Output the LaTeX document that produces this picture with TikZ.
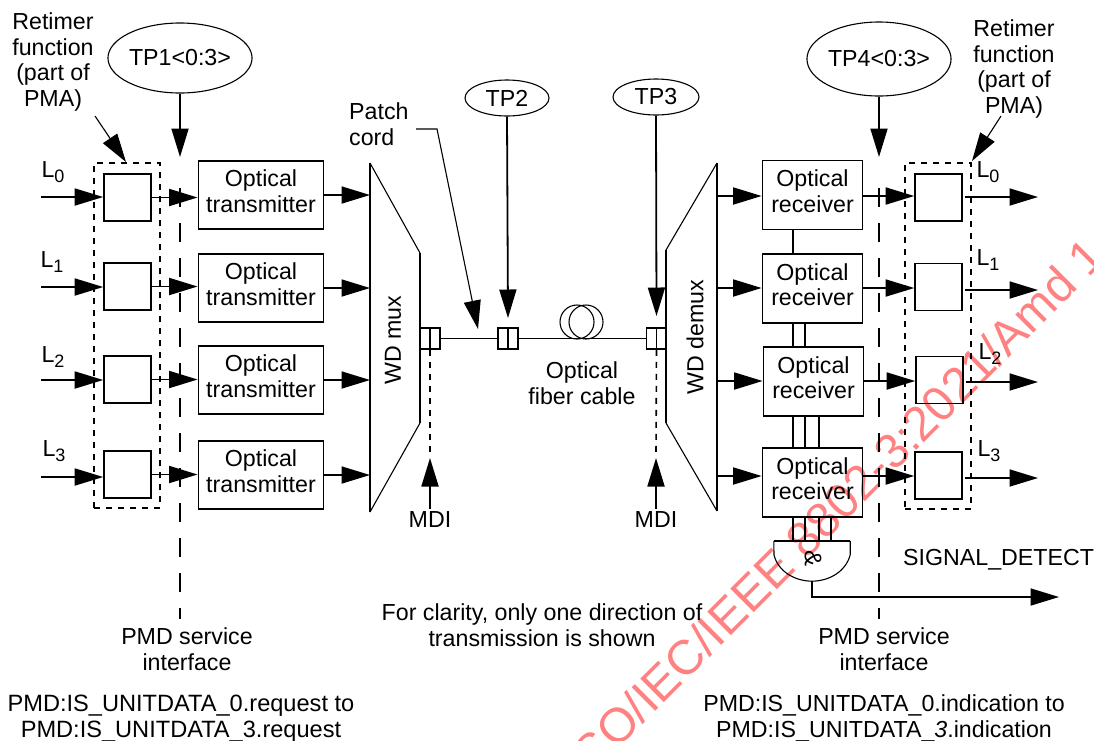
\documentclass[tikz,border=0pt]{standalone}
\usepackage{fontspec}
\setmainfont{Liberation Sans}
\usetikzlibrary{arrows.meta,shapes.geometric,calc}
\definecolor{wm}{RGB}{255,130,130}
\newcommand{\bodyf}{\fontsize{23.2}{25.8}\selectfont}
\newcommand{\lowstrut}{\rule[-8pt]{0pt}{8pt}}
\newcommand{\Lsub}[1]{L\raisebox{-5.5pt}{\fontsize{18}{18}\selectfont #1}}
\tikzset{
 x=1pt,y=-1pt,
 every node/.style={font=\bodyf,inner sep=0pt,align=center},
 bx/.style={draw,line width=1.8pt,minimum width=#1,minimum height=68pt},
 rt/.style={draw,line width=1.6pt,minimum width=47pt,minimum height=47pt},
 oval/.style={draw,ellipse,line width=1.1pt},
 big/.style={line width=1.8pt,-{Triangle[length=28.5pt,width=17pt]}},
 bigt/.style={line width=1.1pt,-{Triangle[length=28.5pt,width=17pt]}},
 thick1/.style={line width=1.8pt},
 thin1/.style={line width=1.1pt},
 dotbox/.style={line width=1.6pt,dash pattern=on 6pt off 6pt},
 longd/.style={line width=1.8pt,dash pattern=on 19pt off 16pt},
 conn/.style={draw,line width=1.6pt,minimum width=20pt,minimum height=21pt},
}
\begin{document}
\begin{tikzpicture}
\useasboundingbox (0,0) rectangle (1094,740);
% watermark, underneath the line work
\node[rotate=45,anchor=base east,text=wm,font=\fontsize{48.5}{48.5}\selectfont] (wmark) at (1108,259) {ISO/IEC/IEEE 8802-3:2021/Amd 1};
% dashed elements
\node[draw,dotbox,minimum width=66pt,minimum height=345pt] (lbox) at (127,335.5) {};
\node[draw,dotbox,minimum width=66pt,minimum height=346pt] (rbox) at (938,336) {};
% test point ellipses
\node[oval,minimum width=136pt,minimum height=70pt] (tp1) at (180,58) {TP1<0:3>};
\node[oval,minimum width=84pt,minimum height=36pt] (tp2) at (507,98) {TP2};
\node[oval,minimum width=86pt,minimum height=36pt] (tp3) at (656,97) {TP3};
\node[oval,minimum width=142pt,minimum height=74pt] (tp4) at (879,59) {TP4<0:3>};
% left column
\foreach \n/\yr/\yt/\yi/\xl/\yl in {0/197.5/195/197/53/172,1/286.5/288/287/52/262,2/379.5/380/380/53/357,3/474.5/475/477/54/451}{
  \node[rt] (rl\n) at (127.5,\yr) {};
  \node[bx=125pt] (tx\n) at (261,\yt) {Optical\\transmitter\lowstrut};
  \node (inl\n) at (\xl,\yl) {\Lsub{\n}};
  \coordinate (src\n) at (41,\yi);
  \draw[big] (src\n) -- (src\n -| rl\n.west);
  \draw[big] (rl\n.east) -- (rl\n.east -| tx\n.west);
}
% mux and demux
\coordinate (mtl) at (370,163);\coordinate (mtr) at (420,253);\coordinate (mbr) at (420,423);\coordinate (mbl) at (370,512);
\draw[thick1] (mtl) -- (mbl) (mtr) -- (mbr);
\draw[thin1] (mtl) -- (mtr) (mbr) -- (mbl);
\node[rotate=90] (mux) at (393,340) {WD mux};
\coordinate (dtr) at (717,163);\coordinate (dtl) at (666,250);\coordinate (dbl) at (666,423);\coordinate (dbr) at (717,511);
\draw[thick1] (dtr) -- (dbr) (dtl) -- (dbl);
\draw[thin1] (dtr) -- (dtl) (dbl) -- (dbr);
\node[rotate=90] (demux) at (695,337) {WD demux};
\foreach \n in {0,1,2,3}{\draw[big] (tx\n.east) -- (tx\n.east -| mtl);}
% connectors and fibre
\node[conn] (c1) at (430,338.5) {};
\node[conn] (c2) at (508,338.5) {};
\node[conn] (c3) at (656.5,338.5) {};
\draw[thick1] (c1.north) -- (c1.south) (c2.north) -- (c2.south) (c3.north) -- (c3.south);
\draw[thick1] (c1.east) -- (c2.west) (c2.east) -- (c3.west);
\node[draw,circle,line width=1.1pt,minimum size=34pt] (coil1) at (577,322) {};
\node[draw,circle,line width=1.1pt,minimum size=34pt] (coil2) at (586,322) {};
\node (cable) at (582,383) {Optical\\fiber cable};
% test point arrows
\coordinate (tp1tip) at (180,157);\coordinate (tp4tip) at (879,157);
\draw[big] (tp1.south) -- (tp1tip);
\draw[big] (tp4.south) -- (tp4tip);
\draw[big] (tp2.south) -- (c2.north |- 0,318);
\draw[big] (tp3.south) -- (c3.north |- 0,316);
% service interface lines
\coordinate (s1t) at (180,188);\coordinate (s1b) at (180,619);
\coordinate (s4t) at (879,188);\coordinate (s4b) at (879,619);
\draw[longd] (s1t) -- (s1b);
\draw[longd] (s4t) -- (s4b);
% MDI
\node (mdi1) at (430,520) {MDI};
\node (mdi2) at (656,520) {MDI};
\draw[big] ([yshift=3pt]mdi1.north) -- (430,458);
\draw[big] ([yshift=3pt]mdi2.north) -- (656,458);
\draw[dotbox] (c1.south) -- (430,455);
\draw[dotbox] (c3.south) -- (656,455);
% receivers
\foreach \n/\xr/\yr/\yo/\xb/\yb/\ys/\xl/\yl in {0/812.5/195/196/938.5/197.5/197/988/172,1/812.5/288.5/288/938.5/287/290/988/260,2/813.5/381.5/381/939.5/380/382/990/354,3/812.5/482.5/476/938.5/475.5/478/989/451}{
  \node[bx=100pt,minimum height=69pt] (rx\n) at (\xr,\yr) {Optical\\receiver\lowstrut};
  \node[rt] (rr\n) at (\xb,\yb) {};
  \coordinate (snk\n) at (1038,\ys);
  \node (onl\n) at (\xl,\yl) {\Lsub{\n}};
  \coordinate (ri\n) at (717,\yo);
  \draw[big] (ri\n) -- (ri\n -| rx\n.west);
  \draw[big] (rx\n.east |- ri\n) -- (rr\n.west |- ri\n);
  \draw[big] ([xshift=2pt]rr\n.east |- snk\n) -- (snk\n);
}
% links between receivers and gate
\coordinate (w1) at (793,0);\coordinate (w2) at (805,0);\coordinate (w3) at (819,0);\coordinate (w4) at (831,0);
\node (gate) at (812,561) [minimum width=76pt,minimum height=40pt] {};
\node[rotate=-90,font=\fontsize{24}{24}\selectfont] (amp) at (813,558) {\&};
\draw[thick1] (rx0.south -| w1) -- (rx1.north -| w1);
\draw[thick1] (rx1.south -| w1) -- (rx2.north -| w1) (rx1.south -| w2) -- (rx2.north -| w2);
\draw[thick1] (rx2.south -| w1) -- (rx3.north -| w1) (rx2.south -| w2) -- (rx3.north -| w2) (rx2.south -| w3) -- (rx3.north -| w3);
\draw[thick1] (rx3.south -| w1) -- (gate.north -| w1) (rx3.south -| w2) -- (gate.north -| w2) (rx3.south -| w3) -- (gate.north -| w3) (rx3.south -| w4) -- (gate.north -| w4);
\draw[thick1] (gate.north west) -- (gate.north east);
\draw[thin1] (gate.north east) -- ++(0,14) .. controls (846,571) and (830,581) .. (gate.south) .. controls (794,581) and (778,571) .. (774,555) -- (gate.north west);
\coordinate (sd) at (1059,597);
\draw[big] (gate.south) |- (sd);
% labels
\node (ret1) at (53,62) {Retimer\\function\\(part of\\PMA)};
\node (ret2) at (1014,69) {Retimer\\function\\(part of\\PMA)};
\coordinate (ret1s) at (95,116);\coordinate (ret1t) at (126,162);
\coordinate (ret2s) at (1001,116);\coordinate (ret2t) at (972,161);
\draw[bigt] (ret1s) -- (ret1t);
\draw[bigt] (ret2s) -- (ret2t);
\node[align=left,anchor=west] (patch) at (349,124) {Patch\\cord};
\coordinate (pc1) at (416,129);\coordinate (pc2) at (437,129);\coordinate (pc3) at (478,329);
\draw[bigt] (pc1) -- (pc2) -- (pc3);
\node (clar) at (542,625) {For clarity, only one direction of\\transmission is shown};
\node (psi1) at (187,649) {PMD service\\interface};
\node (psi2) at (884,649) {PMD service\\interface};
\node[font=\fontsize{23.6}{26}\selectfont] (prim1) at (181,718.5) {PMD:IS\_UNITDATA\_0.request to\\PMD:IS\_UNITDATA\_3.request};
\node (prim2) at (884,718.5) {PMD:IS\_UNITDATA\_0.indication to\\PMD:IS\_UNITDATA\_\textit{3}.indication};
\node[anchor=west] (sig) at (903,560) {SIGNAL\_DETECT};
\end{tikzpicture}
\end{document}
